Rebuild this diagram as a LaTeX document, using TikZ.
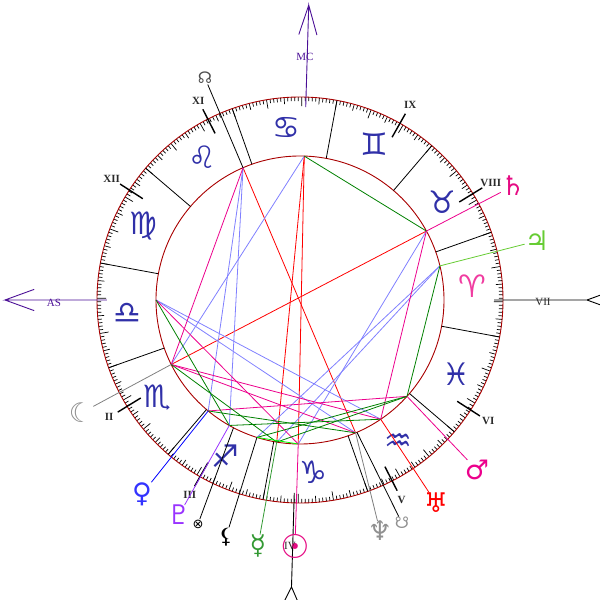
\documentclass[tikz,border=0pt]{standalone}
\usepackage{fontspec}
\setmainfont{Liberation Serif}
\newfontfamily\glyphs{DejaVu Sans}
\usetikzlibrary{calc}
\definecolor{ringred}{HTML}{A80000}
\definecolor{signblue}{HTML}{3030A8}
\definecolor{ariespink}{HTML}{F03CA0}
\definecolor{axispurple}{HTML}{4B0F96}
\definecolor{aspblue}{HTML}{8080FF}
\definecolor{aspgreen}{HTML}{008000}
\definecolor{asplime}{HTML}{00FF00}
\definecolor{glyphgray}{HTML}{909090}
\definecolor{jupgreen}{HTML}{66CC33}
\definecolor{mergreen}{HTML}{339933}
\definecolor{plupurple}{HTML}{9933FF}
\definecolor{labelgray}{HTML}{2A2A2A}
\tikzset{
  asp/.style={line width=0.8pt},
  opp/.style={asp,red},
  sqr/.style={asp,magenta},
  tri/.style={asp,aspblue},
  sxt/.style={asp,aspgreen},
  cnj/.style={asp,asplime},
  degtick/.style={line width=0.7pt},
  ring/.style={ringred,line width=0.9pt},
  signline/.style={line width=0.8pt},
  sign/.style={font=\glyphs\fontsize{31}{31}\selectfont,inner sep=0pt},
  cuspmark/.style={line width=1.4pt},
  cusplabel/.style={font=\fontsize{11}{11}\selectfont\bfseries,text=labelgray,inner sep=0pt},
  axisline/.style={line width=0.9pt},
  axislabel/.style={font=\fontsize{11}{11}\selectfont,inner sep=0pt},
  planet/.style={font=\glyphs\fontsize{27}{27}\selectfont,inner sep=0pt},
  smallglyph/.style={font=\glyphs\fontsize{16}{16}\selectfont,inner sep=0.5pt},
  symline/.style={line width=0.8pt}
}
\begin{document}
\begin{tikzpicture}[x=1pt,y=1pt]
\useasboundingbox (-300,-300) rectangle (300,300);
\clip (-300,-300) rectangle (300,300);
\coordinate (O) at (0,0);

% degree ticks and the two rings
\foreach \d in {0,...,359}{
  \pgfmathsetmacro\tl{mod(\d,10)==0 ? 9 : (mod(\d,5)==0 ? 6.5 : 4)}
  \draw[degtick] ({\d-10.5}:203) -- ({\d-10.5}:{203-\tl});
}
\draw[ring] (O) circle (203);
\draw[ring] (O) circle (144);

% signs
\foreach \k in {0,...,11}
  \draw[signline] ({169.5+30*\k}:144) -- ({169.5+30*\k}:203);
\foreach \g/\c [count=\i from 0] in {♈/ariespink,♉/signblue,♊/signblue,♋/signblue,♌/signblue,♍/signblue,♎/signblue,♏/signblue,♐/signblue,♑/signblue,♒/signblue,♓/signblue}
  \node[sign,text=\c] (z\i) at ({4.5+30*\i}:173) {\g};

% house cusps
\foreach \a/\h in {117/XI,147.2/XII,211.6/II,240.5/III,297/V,327.2/VI,31.6/VIII,60.5/IX}{
  \draw[cuspmark] (\a:187) -- (\a:214);
  \node[cusplabel] (h\h) at (\a:224) {\h};
}

% axes
\coordinate (ASt) at (180:295);
\coordinate (MCt) at (88.3:295);
\coordinate (DCt) at (0:287);
\coordinate (ICt) at (268.3:287);
\draw[axisline,axispurple] (180:193) -- (ASt) -- ($(ASt)!31pt!20:(O)$) (ASt) -- ($(ASt)!31pt!-20:(O)$);
\draw[axisline,axispurple] (88.3:193) -- (MCt) -- ($(MCt)!31pt!17:(O)$) (MCt) -- ($(MCt)!31pt!-17:(O)$);
\draw[axisline] (0:194) -- (DCt) ($(DCt)!31pt!160:(O)$) -- (DCt) -- ($(DCt)!31pt!-160:(O)$);
\draw[axisline] (268.3:193) -- (ICt) ($(ICt)!31pt!155:(O)$) -- (ICt) -- ($(ICt)!31pt!-155:(O)$);

% points on the inner circle
\foreach \n/\a in {MC/88.3,AS/180,NN/113.3,Mo/206.6,Sa/28.6,Ju/13.7,Ma/318,Ur/304.1,Ne/292.7,SN/293.3,Me/260.7,So/269.3,Li/252.6,Pl/240.6,PF/242.5,Ve/230.4}
  \coordinate (\n) at (\a:144);

% aspects
\foreach \p/\q in {MC/So,MC/Me,NN/Ne,Mo/Sa} \draw[opp] (\p) -- (\q);
\foreach \p/\q in {MC/Mo,NN/Ve,NN/Pl,AS/Ur,AS/Ne,Sa/So,Ju/Me,Ju/Li} \draw[tri] (\p) -- (\q);
\foreach \p/\q in {NN/Mo,AS/So,Ve/Ma,Mo/Ne,Mo/Ur,Sa/Ur} \draw[sqr] (\p) -- (\q);
\foreach \p/\q in {MC/Sa,Ju/Ma,AS/Pl,Ve/Ne,Pl/Ur,Li/Ma,Me/Ma,Mo/Me} \draw[sxt] (\p) -- (\q);
\draw[cnj] (Li) -- (So);

% planets
\node[smallglyph,text=black!70] (sNN) at (-95,222) {☊};
\node[planet,text=glyphgray] (sMo) at (-219,-113) {☾};
\node[planet,text=magenta!85!purple] (sSa) at (213,114) {♄};
\node[planet,text=jupgreen] (sJu) at (237,59) {♃};
\node[planet,text=magenta] (sMa) at (177,-170) {♂};
\node[planet,text=red] (sUr) at (136,-203) {♅};
\node[smallglyph,text=glyphgray] (sSN) at (102,-223) {☋};
\node[planet,text=glyphgray] (sNe) at (80,-231) {♆};
\node[planet,font=\glyphs\fontsize{33}{33}\selectfont,text=magenta!85!purple] (sSo) at (-5,-246) {☉};
\node[planet,text=mergreen] (sMe) at (-42,-246) {☿};
\node[font=\glyphs\fontsize{21}{21}\selectfont,inner sep=0.5pt,text=black] (sLi) at (-74,-237) {⚸};
\node[font=\glyphs\fontsize{13}{13}\selectfont,inner sep=0.5pt,text=black] (sPF) at (-102,-224) {⊗};
\node[planet,text=plupurple] (sPl) at (-121,-215) {♇};
\node[planet,text=blue!80] (sVe) at (-158,-194) {♀};

\draw[symline,black] (NN) -- (sNN);
\draw[symline,gray] (Mo) -- (sMo);
\draw[symline,magenta] (Sa) -- (sSa);
\draw[symline,jupgreen] (Ju) -- (sJu);
\draw[symline,magenta] (Ma) -- (sMa);
\draw[symline,red] (Ur) -- (sUr);
\draw[symline,black] (SN) -- (sSN);
\draw[symline,gray] (Ne) -- (sNe);
\draw[symline,magenta] (So) -- (sSo);
\draw[symline,mergreen] (Me) -- (sMe);
\draw[symline,black] (Li) -- (sLi);
\draw[symline,black] (PF) -- (sPF);
\draw[symline,plupurple] (Pl) -- (sPl);
\draw[symline,blue] (Ve) -- (sVe);

% axis labels
\node[axislabel,text=axispurple] (lAS) at (-246,-3) {AS};
\node[axislabel,text=axispurple] (lMC) at (5,243) {MC};
\node[axislabel,text=labelgray] (lDC) at (243,-2) {VII};
\node[axislabel,text=labelgray] (lIC) at (-10,-246) {IV};
\end{tikzpicture}
\end{document}
